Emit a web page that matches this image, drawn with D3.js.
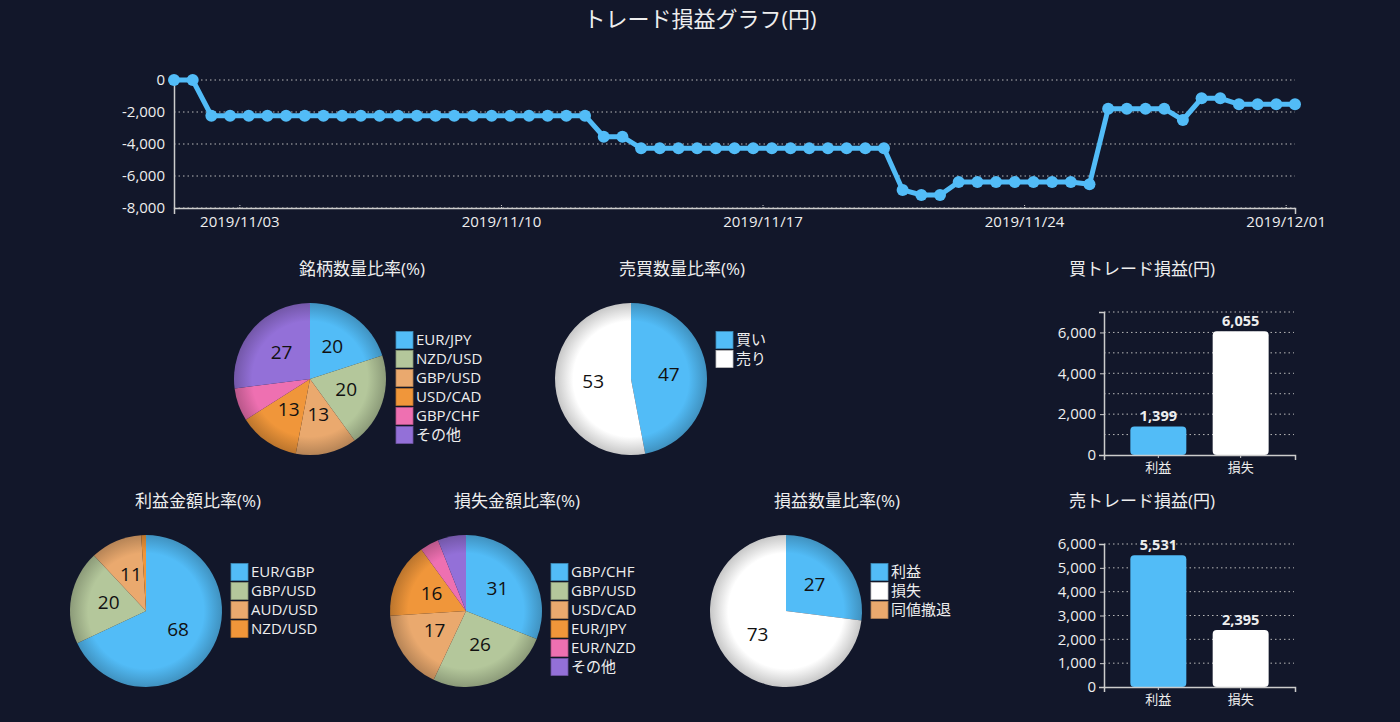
<!DOCTYPE html>
<html>
<head>
<meta charset="utf-8">
<script src="https://cdn.jsdelivr.net/npm/d3@7"></script>
<style>
body { margin: 0; background: #12172a; }
text { font-family: "Open Sans", "Noto Sans CJK JP", sans-serif; }
</style>
</head>
<body>
<svg id="chart" width="1400" height="722"></svg>
<script>
// ---- data ----
var lineStart = new Date(2019, 10, 1, 6);
var lineValues = [
    0, 0,
    -2231, -2231, -2231, -2231, -2231, -2231, -2231, -2231, -2231, -2231, -2231,
    -2231, -2231, -2231, -2231, -2231, -2231, -2231, -2231, -2231, -2231,
    -3542, -3542,
    -4271, -4271, -4271, -4271, -4271, -4271, -4271, -4271, -4271, -4271, -4271, -4271, -4271, -4271,
    -6875, -7187, -7187,
    -6375, -6375, -6375, -6375, -6375, -6375, -6375,
    -6521,
    -1792, -1792, -1792, -1792,
    -2500, -1146, -1146,
    -1520, -1520, -1520, -1520
];
var lineYTicks = [0, -2000, -4000, -6000, -8000];
var lineXTicks = [new Date(2019, 10, 3), new Date(2019, 10, 10), new Date(2019, 10, 17),
    new Date(2019, 10, 24), new Date(2019, 11, 1)];

var pairPieLabels = ["EUR/JPY", "NZD/USD", "GBP/USD", "USD/CAD", "GBP/CHF", "その他"];
var pairPieValues = [20, 20, 13, 13, 7, 27];

var sidePieLabels = ["買い", "売り"];
var sidePieValues = [47, 53];

var profitPieLabels = ["EUR/GBP", "GBP/USD", "AUD/USD", "NZD/USD"];
var profitPieValues = [68, 20, 11, 1];

var lossPieLabels = ["GBP/CHF", "GBP/USD", "USD/CAD", "EUR/JPY", "EUR/NZD", "その他"];
var lossPieValues = [31, 26, 17, 16, 4, 6];

var resultPieLabels = ["利益", "損失", "同値撤退"];
var resultPieValues = [27, 73, 0];

var barCategories = ["利益", "損失"];
var buyBarValues = [1399, 6055];
var sellBarValues = [5531, 2395];

var pieColors = ["#52bcf7", "#b4c79b", "#eaa96e", "#f0963a", "#ee70b1", "#9370d8"];
var pieColorsSide = ["#52bcf7", "#ffffff", "#eaa96e"];
var barColors = ["#52bcf7", "#ffffff"];

// ---- setup ----
var svg = d3.select("#chart");
var defs = svg.append("defs");
var fmt = d3.formatLocale({decimal: ".", thousands: ",", grouping: [3], currency: ["", ""], minus: "-"}).format(",");
var textColor = "#eeeeee";
var axisColor = "#cccccc";
var gridColor = "#b8b8b8";

svg.append("text")
        .attr("x", 700).attr("y", 21)
        .attr("text-anchor", "middle").attr("dominant-baseline", "middle")
        .attr("fill", textColor).style("font-size", "22px")
        .text("トレード損益グラフ(円)");

// ---- line chart ----
var lineData = lineValues.map(function (v, i) {
    return {t: d3.timeHour.offset(lineStart, i * 12), v: v};
});

var lx = d3.scaleTime()
        .domain([lineData[0].t, lineData[lineData.length - 1].t])
        .range([174, 1295]);
var ly = d3.scaleLinear().domain([-8000, 0]).range([208, 80]);

svg.append("g").selectAll("line")
        .data(lineYTicks)
        .enter().append("line")
        .attr("x1", 174).attr("x2", 1295)
        .attr("y1", ly).attr("y2", ly)
        .attr("stroke", gridColor).attr("stroke-dasharray", "1.5,3");

var yAxisG = svg.append("g")
        .attr("transform", "translate(174,0)")
        .call(d3.axisLeft(ly).tickValues(lineYTicks).tickFormat(fmt).tickSize(0).tickPadding(9));

var xAxisG = svg.append("g")
        .attr("transform", "translate(0,208)")
        .call(d3.axisBottom(lx).tickValues(lineXTicks).tickFormat(d3.timeFormat("%Y/%m/%d"))
                .tickSizeInner(-4).tickSizeOuter(6).tickPadding(8));

[yAxisG, xAxisG].forEach(function (g) {
    g.select(".domain").attr("stroke", axisColor).attr("stroke-width", 1.5);
    g.selectAll(".tick line").attr("stroke", axisColor).attr("stroke-dasharray", "1,1");
    g.selectAll("text").attr("fill", textColor).style("font-size", "15px")
            .style("font-family", "'Open Sans', 'Noto Sans CJK JP', sans-serif");
});

svg.append("path")
        .datum(lineData)
        .attr("fill", "none")
        .attr("stroke", "#52bcf7")
        .attr("stroke-width", 5)
        .attr("d", d3.line().x(function (d) { return lx(d.t); }).y(function (d) { return ly(d.v); }));

svg.append("g").selectAll("circle")
        .data(lineData)
        .enter().append("circle")
        .attr("cx", function (d) { return lx(d.t); })
        .attr("cy", function (d) { return ly(d.v); })
        .attr("r", 6)
        .attr("fill", "#52bcf7");

// ---- pies ----
var pieCount = 0;
function drawPie(o) {
    var R = 76;
    pieCount++;
    svg.append("text")
            .attr("x", o.tx).attr("y", o.ty)
            .attr("text-anchor", "middle").attr("dominant-baseline", "middle")
            .attr("fill", textColor).style("font-size", "17px")
            .text(o.title);

    var g = svg.append("g").attr("transform", "translate(" + o.cx + "," + o.cy + ")");
    var arcs = d3.pie().sort(null).value(function (d) { return d; })(o.values);
    var arc = d3.arc().innerRadius(0).outerRadius(R);
    var labelArc = d3.arc().innerRadius(R * 0.5).outerRadius(R * 0.5);

    o.colors.forEach(function (c, i) {
        var grad = defs.append("radialGradient")
                .attr("id", "pg" + pieCount + "_" + i)
                .attr("gradientUnits", "userSpaceOnUse")
                .attr("cx", 0).attr("cy", 0).attr("r", R);
        grad.append("stop").attr("offset", "0%").attr("stop-color", c);
        grad.append("stop").attr("offset", "76%").attr("stop-color", c);
        grad.append("stop").attr("offset", "100%").attr("stop-color", d3.color(c).darker(0.7));
    });

    g.selectAll("path")
            .data(arcs)
            .enter().append("path")
            .attr("d", arc)
            .attr("fill", function (d, i) { return "url(#pg" + pieCount + "_" + i + ")"; });

    g.selectAll(".lbl")
            .data(arcs.filter(function (d) { return d.value >= 10; }))
            .enter().append("text")
            .attr("class", "lbl")
            .attr("transform", function (d) { return "translate(" + labelArc.centroid(d) + ")"; })
            .attr("text-anchor", "middle").attr("dominant-baseline", "middle")
            .attr("fill", "#111").style("font-size", "19px")
            .text(function (d) { return d.value; });

    var leg = svg.append("g").attr("transform", "translate(" + o.lx + "," + o.ly + ")");
    var row = leg.selectAll("g")
            .data(o.labels)
            .enter().append("g")
            .attr("transform", function (d, i) { return "translate(0," + (i * 19) + ")"; });
    row.append("rect")
            .attr("x", 0).attr("y", -8.5).attr("width", 17).attr("height", 17)
            .attr("fill", function (d, i) { return o.colors[i]; })
            .attr("stroke", function (d, i) { return d3.color(o.colors[i]).darker(0.8); })
            .attr("stroke-width", 0.8);
    row.append("text")
            .attr("x", 20).attr("y", 0.5)
            .attr("dominant-baseline", "middle")
            .attr("fill", textColor).style("font-size", "15px")
            .text(function (d) { return d; });
}

drawPie({title: "銘柄数量比率(%)", tx: 362, ty: 270, cx: 310, cy: 379, lx: 396, ly: 340,
    labels: pairPieLabels, values: pairPieValues, colors: pieColors});
drawPie({title: "売買数量比率(%)", tx: 682, ty: 270, cx: 631, cy: 379, lx: 716, ly: 340,
    labels: sidePieLabels, values: sidePieValues, colors: pieColorsSide.slice(0, 2)});
drawPie({title: "利益金額比率(%)", tx: 198, ty: 502, cx: 146, cy: 611, lx: 231, ly: 572,
    labels: profitPieLabels, values: profitPieValues, colors: pieColors.slice(0, 4)});
drawPie({title: "損失金額比率(%)", tx: 517, ty: 502, cx: 466, cy: 611, lx: 551, ly: 572,
    labels: lossPieLabels, values: lossPieValues, colors: pieColors});
drawPie({title: "損益数量比率(%)", tx: 837, ty: 502, cx: 786, cy: 611, lx: 871, ly: 572,
    labels: resultPieLabels, values: resultPieValues, colors: pieColorsSide});

// ---- bars ----
function drawBar(o) {
    svg.append("text")
            .attr("x", 1142).attr("y", o.ty)
            .attr("text-anchor", "middle").attr("dominant-baseline", "middle")
            .attr("fill", textColor).style("font-size", "17px")
            .text(o.title);

    var x = d3.scaleBand().domain(barCategories).range([1104, 1295])
            .paddingInner(0.32).paddingOuter(0.32);
    var y = d3.scaleLinear().domain([0, o.max]).range([o.bottom, o.top]);

    svg.append("g").selectAll("line")
            .data(d3.range(1000, o.max + 1, 1000))
            .enter().append("line")
            .attr("x1", 1104).attr("x2", 1294)
            .attr("y1", y).attr("y2", y)
            .attr("stroke", gridColor).attr("stroke-dasharray", "1.5,3");

    svg.append("g").selectAll("rect")
            .data(o.values)
            .enter().append("rect")
            .attr("x", function (d, i) { return x(barCategories[i]); })
            .attr("y", function (d) { return y(d); })
            .attr("width", x.bandwidth())
            .attr("height", function (d) { return o.bottom - y(d); })
            .attr("rx", 4)
            .attr("fill", function (d, i) { return barColors[i]; });

    svg.append("g").selectAll("text")
            .data(o.values)
            .enter().append("text")
            .attr("x", function (d, i) { return x(barCategories[i]) + x.bandwidth() / 2; })
            .attr("y", function (d) { return y(d) - 5; })
            .attr("text-anchor", "middle")
            .attr("fill", textColor).style("font-size", "14.5px").style("font-weight", "bold")
            .text(function (d) { return fmt(d); });

    var ya = svg.append("g")
            .attr("transform", "translate(1104,0)")
            .call(d3.axisLeft(y).tickValues(o.ticks).tickFormat(fmt).tickSizeInner(4).tickSizeOuter(5).tickPadding(4));
    var xa = svg.append("g")
            .attr("transform", "translate(0," + o.bottom + ")")
            .call(d3.axisBottom(x).tickSizeInner(3).tickSizeOuter(5).tickPadding(5));
    [ya, xa].forEach(function (g) {
        g.select(".domain").attr("stroke", axisColor).attr("stroke-width", 1.5);
        g.selectAll(".tick line").attr("stroke", axisColor);
        g.selectAll("text").attr("fill", textColor).style("font-size", "15px")
                .style("font-family", "'Open Sans', 'Noto Sans CJK JP', sans-serif");
    });
    xa.selectAll("text").style("font-size", "13px");
}

drawBar({title: "買トレード損益(円)", ty: 270, top: 312, bottom: 455, max: 7000,
    ticks: [0, 2000, 4000, 6000], values: buyBarValues});
drawBar({title: "売トレード損益(円)", ty: 502, top: 544, bottom: 687, max: 6000,
    ticks: [0, 1000, 2000, 3000, 4000, 5000, 6000], values: sellBarValues});
</script>
</body>
</html>
